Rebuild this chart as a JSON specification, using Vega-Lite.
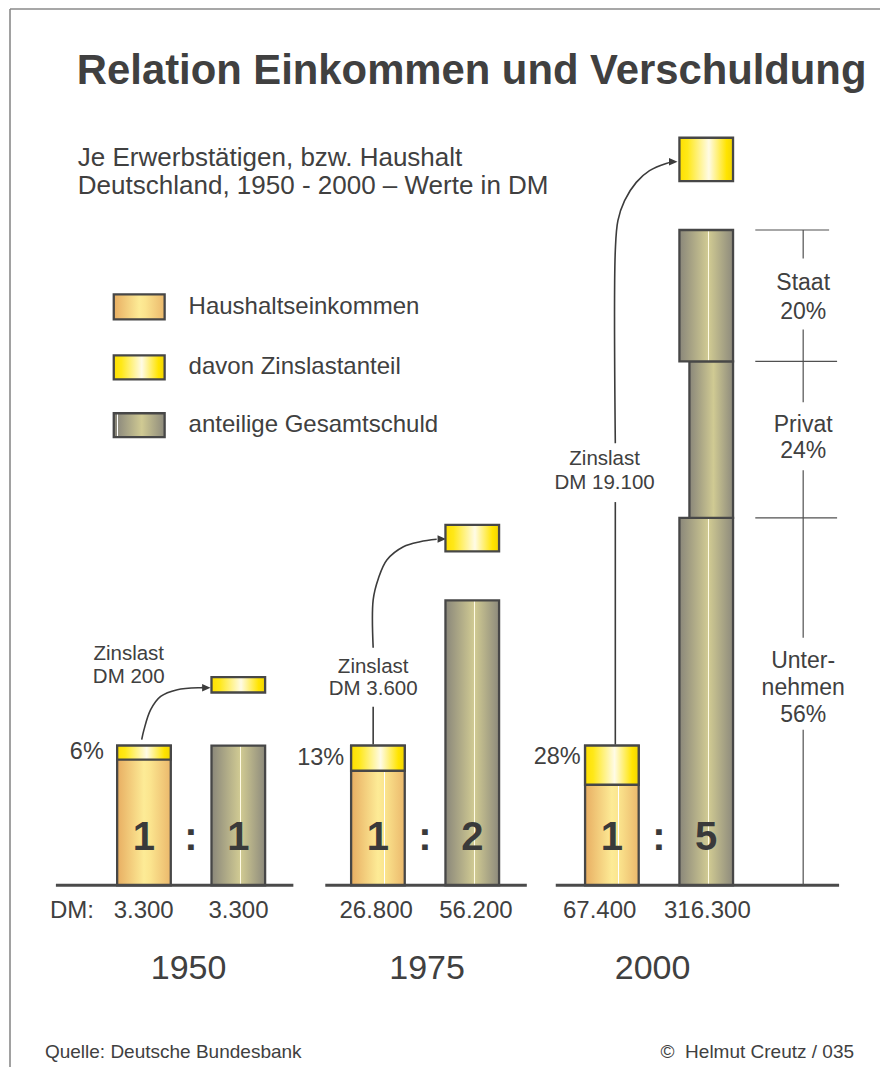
{
  "$schema": "https://vega.github.io/schema/vega-lite/v6.json",
  "width": 881,
  "height": 1068,
  "autosize": {"type": "fit", "contains": "padding"},
  "padding": {"left": 9, "top": 8, "right": 0, "bottom": 0},
  "background": "white",
  "config": {
    "view": {"stroke": null},
    "text": {"font": "Liberation Sans", "color": "#404040"}
  },
  "datasets": {
    "rahmen": [{"kante": "oben"}, {"kante": "links"}],
    "saeulen": [
      {"jahr": 1950, "reihe": "Haushaltseinkommen", "lage": "E", "von": 0, "bis": 1},
      {"jahr": 1975, "reihe": "Haushaltseinkommen", "lage": "E", "von": 0, "bis": 1},
      {"jahr": 2000, "reihe": "Haushaltseinkommen", "lage": "E", "von": 0, "bis": 1},
      {"jahr": 1950, "reihe": "Zinslastanteil", "lage": "E", "von": 0.9, "bis": 1},
      {"jahr": 1975, "reihe": "Zinslastanteil", "lage": "E", "von": 0.82, "bis": 1},
      {"jahr": 2000, "reihe": "Zinslastanteil", "lage": "E", "von": 0.72, "bis": 1},
      {"jahr": 1950, "reihe": "Gesamtschuld", "lage": "S", "von": 0, "bis": 1},
      {"jahr": 1975, "reihe": "Gesamtschuld", "lage": "S", "von": 0, "bis": 2.04},
      {"jahr": 2000, "reihe": "Unternehmen", "lage": "S", "von": 0, "bis": 2.63},
      {"jahr": 2000, "reihe": "Privat", "lage": "S", "von": 2.63, "bis": 3.75},
      {"jahr": 2000, "reihe": "Staat", "lage": "S", "von": 3.75, "bis": 4.69},
      {"jahr": 1950, "reihe": "Zinslast", "lage": "S", "von": 1.38, "bis": 1.49},
      {"jahr": 1975, "reihe": "Zinslast", "lage": "S", "von": 2.39, "bis": 2.58},
      {"jahr": 2000, "reihe": "Zinslast", "lage": "S", "von": 5.04, "bis": 5.35}
    ],
    "grundlinien": [
      {"jahr": 1950, "von": 1935.564, "bis": 1960.937},
      {"jahr": 1975, "von": 1964.349, "bis": 1985.884},
      {"jahr": 2000, "von": 1988.976, "bis": 2019.252}
    ],
    "verbindungen": [
      {"strecke": "1950", "nr": 1, "x": 1944.732, "y": 1.0429},
      {"strecke": "1950", "nr": 2, "x": 1944.977, "y": 1.1143},
      {"strecke": "1950", "nr": 3, "x": 1945.691, "y": 1.2571},
      {"strecke": "1950", "nr": 4, "x": 1946.758, "y": 1.3521},
      {"strecke": "1950", "nr": 5, "x": 1948.538, "y": 1.4},
      {"strecke": "1950", "nr": 6, "x": 1951.022, "y": 1.4143},
      {"strecke": "1950", "nr": 7, "x": 1951.449, "y": 1.4143},
      {"strecke": "1975a", "nr": 1, "x": 1969.466, "y": 1.0071},
      {"strecke": "1975a", "nr": 2, "x": 1969.466, "y": 1.2786},
      {"strecke": "1975b", "nr": 1, "x": 1969.466, "y": 1.7},
      {"strecke": "1975b", "nr": 2, "x": 1969.466, "y": 2.0429},
      {"strecke": "1975b", "nr": 3, "x": 1970.031, "y": 2.1979},
      {"strecke": "1975b", "nr": 4, "x": 1970.926, "y": 2.3286},
      {"strecke": "1975b", "nr": 5, "x": 1972.696, "y": 2.4236},
      {"strecke": "1975b", "nr": 6, "x": 1974.476, "y": 2.4593},
      {"strecke": "1975b", "nr": 7, "x": 1976.256, "y": 2.4764},
      {"strecke": "2000a", "nr": 1, "x": 1995.34, "y": 1.0071},
      {"strecke": "2000a", "nr": 2, "x": 1995.34, "y": 2.7429},
      {"strecke": "2000b", "nr": 1, "x": 1995.34, "y": 3.1643},
      {"strecke": "2000b", "nr": 2, "x": 1995.34, "y": 4.5429},
      {"strecke": "2000b", "nr": 3, "x": 1995.617, "y": 4.7571},
      {"strecke": "2000b", "nr": 4, "x": 1996.331, "y": 4.9},
      {"strecke": "2000b", "nr": 5, "x": 1997.578, "y": 5.0307},
      {"strecke": "2000b", "nr": 6, "x": 1998.995, "y": 5.1143},
      {"strecke": "2000b", "nr": 7, "x": 2000.775, "y": 5.1664},
      {"strecke": "2000b", "nr": 8, "x": 2001.447, "y": 5.1764}
    ],
    "pfeilspitzen": [
      {"jahr": 1950, "x": 1951.64, "y": 1.4143},
      {"jahr": 1975, "x": 1976.8, "y": 2.4786},
      {"jahr": 2000, "x": 2001.533, "y": 5.1786}
    ],
    "grenzen": [
      {"teil": "Staat oben", "grenze": 4.69, "von": 2010.296, "bis": 2018.185},
      {"teil": "Staat/Privat", "grenze": 3.75, "von": 2010.296, "bis": 2019.038},
      {"teil": "Privat/Unternehmen", "grenze": 2.63, "von": 2010.296, "bis": 2019.038}
    ],
    "klammer": [
      {"oben": 4.69, "unten": 4.4857},
      {"oben": 3.9786, "unten": 3.4571},
      {"oben": 2.9714, "unten": 1.7714},
      {"oben": 1.1143, "unten": 0}
    ],
    "klammertexte": [
      {"zeile": "Staat", "y": 4.2571},
      {"zeile": "20%", "y": 4.05},
      {"zeile": "Privat", "y": 3.2429},
      {"zeile": "24%", "y": 3.0571},
      {"zeile": "Unter-", "y": 1.5571},
      {"zeile": "nehmen", "y": 1.3643},
      {"zeile": "56%", "y": 1.1714}
    ],
    "legende": [
      {"eintrag": "Haushaltseinkommen", "oben": 4.2286, "unten": 4.05},
      {"eintrag": "davon Zinslastanteil", "oben": 3.7929, "unten": 3.6214},
      {"eintrag": "anteilige Gesamtschuld", "oben": 3.3786, "unten": 3.2071}
    ],
    "titel": [
      {"text": "Relation Einkommen und Verschuldung", "x": 1937.802, "y": 5.7321}
    ],
    "untertitel": [
      {"zeile": "Je Erwerbstätigen, bzw. Haushalt", "x": 1937.909, "y": 5.15},
      {"zeile": "Deutschland, 1950 - 2000 – Werte in DM", "x": 1937.909, "y": 4.95}
    ],
    "prozente": [
      {"jahr": 1950, "text": "6%", "x": 1940.681, "y": 0.9071},
      {"jahr": 1975, "text": "13%", "x": 1966.374, "y": 0.8643},
      {"jahr": 2000, "text": "28%", "x": 1991.64, "y": 0.8714}
    ],
    "zinslasttexte": [
      {"jahr": 1950, "zeile": "Zinslast", "x": 1943.346, "y": 1.6143},
      {"jahr": 1950, "zeile": "DM 200", "x": 1943.346, "y": 1.45},
      {"jahr": 1975, "zeile": "Zinslast", "x": 1969.466, "y": 1.519},
      {"jahr": 1975, "zeile": "DM 3.600", "x": 1969.466, "y": 1.3593},
      {"jahr": 2000, "zeile": "Zinslast", "x": 1994.199, "y": 3.0071},
      {"jahr": 2000, "zeile": "DM 19.100", "x": 1994.199, "y": 2.8336}
    ],
    "verhaeltnis": [
      {"jahr": 1950, "lage": "E", "zeichen": "1"},
      {"jahr": 1950, "lage": "M", "zeichen": ":"},
      {"jahr": 1950, "lage": "S", "zeichen": "1"},
      {"jahr": 1975, "lage": "E", "zeichen": "1"},
      {"jahr": 1975, "lage": "M", "zeichen": ":"},
      {"jahr": 1975, "lage": "S", "zeichen": "2"},
      {"jahr": 2000, "lage": "E", "zeichen": "1"},
      {"jahr": 2000, "lage": "M", "zeichen": ":"},
      {"jahr": 2000, "lage": "S", "zeichen": "5"}
    ],
    "betraege": [
      {"jahr": 1950, "reihe": "Haushaltseinkommen", "betrag": "3.300", "x": 1944.945},
      {"jahr": 1950, "reihe": "Gesamtschuld", "betrag": "3.300", "x": 1955.073},
      {"jahr": 1975, "reihe": "Haushaltseinkommen", "betrag": "26.800", "x": 1969.785},
      {"jahr": 1975, "reihe": "Gesamtschuld", "betrag": "56.200", "x": 1980.446},
      {"jahr": 2000, "reihe": "Haushaltseinkommen", "betrag": "67.400", "x": 1993.666},
      {"jahr": 2000, "reihe": "Gesamtschuld", "betrag": "316.300", "x": 2005.18}
    ],
    "einheit": [
      {"text": "DM:", "x": 1934.924}
    ],
    "jahre": [
      {"jahr": "1950", "x": 1949.743},
      {"jahr": "1975", "x": 1975.222},
      {"jahr": "2000", "x": 1999.317}
    ],
    "fusszeile": [
      {"text": "Quelle: Deutsche Bundesbank", "seite": "links", "x": 1934.391},
      {"text": "©\u00a0 Helmut Creutz / 035", "seite": "rechts", "x": 2020.852}
    ]
  },
  "layer": [
    {
      "data": {"name": "rahmen"},
      "transform": [{"filter": "datum.kante == 'oben'"}],
      "mark": {"type": "rule", "stroke": "#8a8a8a", "strokeWidth": 1.6},
      "encoding": {
        "x": {"datum": 1930.6595, "type": "quantitative", "scale": {"domain": [1930.6595, 2023.6232], "nice": false, "zero": false}, "axis": null},
        "x2": {"datum": 2023.6232},
        "y": {"datum": 6.2714, "type": "quantitative", "scale": {"domain": [-1.3, 6.2714], "nice": false, "zero": false}, "axis": null}
      }
    },
    {
      "data": {"name": "rahmen"},
      "transform": [{"filter": "datum.kante == 'links'"}],
      "mark": {"type": "rule", "stroke": "#8a8a8a", "strokeWidth": 1.6},
      "encoding": {
        "x": {"datum": 1930.6595, "type": "quantitative", "scale": {"domain": [1930.6595, 2023.6232], "nice": false, "zero": false}, "axis": null},
        "y": {"datum": -1.3, "type": "quantitative", "scale": {"domain": [-1.3, 6.2714], "nice": false, "zero": false}, "axis": null},
        "y2": {"datum": 6.2714}
      }
    },
    {
      "data": {"name": "verbindungen"},
      "mark": {"type": "line", "interpolate": "catmull-rom", "stroke": "#3c3c3c", "strokeWidth": 1.6},
      "encoding": {
        "x": {"field": "x", "type": "quantitative", "scale": {"domain": [1930.6595, 2023.6232], "nice": false, "zero": false}, "axis": null},
        "y": {"field": "y", "type": "quantitative", "scale": {"domain": [-1.3, 6.2714], "nice": false, "zero": false}, "axis": null},
        "detail": {"field": "strecke", "type": "nominal"},
        "order": {"field": "nr", "type": "quantitative"}
      }
    },
    {
      "data": {"name": "pfeilspitzen"},
      "mark": {"type": "point", "shape": "M-1,-0.9L1,0L-1,0.9Z", "size": 72, "filled": true, "fill": "#3c3c3c", "stroke": null, "opacity": 1},
      "encoding": {
        "x": {"field": "x", "type": "quantitative", "scale": {"domain": [1930.6595, 2023.6232], "nice": false, "zero": false}, "axis": null},
        "y": {"field": "y", "type": "quantitative", "scale": {"domain": [-1.3, 6.2714], "nice": false, "zero": false}, "axis": null}
      }
    },
    {
      "data": {"name": "saeulen"},
      "transform": [
        {"filter": "datum.reihe == 'Haushaltseinkommen' && datum.jahr == 1950"},
        {"calculate": "datum.jahr + (datum.lage == 'E' ? -7.89 : 2.19)", "as": "links"},
        {"calculate": "datum.links + 5.73", "as": "rechts"}
      ],
      "mark": {"type": "rect", "stroke": "#474747", "strokeWidth": 2.3,
        "fill": {"gradient": "linear", "x1": 0, "y1": 0, "x2": 1, "y2": 0, "stops": [
          {"offset": 0, "color": "#e8ae62"}, {"offset": 0.5, "color": "#fdeb96"}, {"offset": 0.62, "color": "#fbe48e"}, {"offset": 1, "color": "#ebb86c"}]}},
      "encoding": {
        "x": {"field": "links", "type": "quantitative", "scale": {"domain": [1930.6595, 2023.6232], "nice": false, "zero": false}, "axis": null},
        "x2": {"field": "rechts"},
        "y": {"field": "von", "type": "quantitative", "scale": {"domain": [-1.3, 6.2714], "nice": false, "zero": false}, "axis": null},
        "y2": {"field": "bis"}
      }
    },
    {
      "data": {"name": "saeulen"},
      "transform": [
        {"filter": "datum.reihe == 'Haushaltseinkommen' && datum.jahr != 1950"},
        {"calculate": "datum.jahr + (datum.lage == 'E' ? -7.89 : 2.19)", "as": "links"},
        {"calculate": "datum.links + 5.73", "as": "rechts"}
      ],
      "mark": {"type": "rect", "stroke": "#474747", "strokeWidth": 2.3,
        "fill": {"gradient": "linear", "x1": 0, "y1": 0, "x2": 1, "y2": 0, "stops": [
          {"offset": 0, "color": "#e8ae62"}, {"offset": 0.5, "color": "#fdeb96"}, {"offset": 0.605, "color": "#fbe690"},
          {"offset": 0.605, "color": "#ffffff"}, {"offset": 0.63, "color": "#ffffff"}, {"offset": 0.63, "color": "#fbe48d"},
          {"offset": 1, "color": "#ebb86c"}]}},
      "encoding": {
        "x": {"field": "links", "type": "quantitative", "scale": {"domain": [1930.6595, 2023.6232], "nice": false, "zero": false}, "axis": null},
        "x2": {"field": "rechts"},
        "y": {"field": "von", "type": "quantitative", "scale": {"domain": [-1.3, 6.2714], "nice": false, "zero": false}, "axis": null},
        "y2": {"field": "bis"}
      }
    },
    {
      "data": {"name": "saeulen"},
      "transform": [
        {"filter": "datum.reihe == 'Zinslastanteil' || datum.reihe == 'Zinslast'"},
        {"calculate": "datum.jahr + (datum.lage == 'E' ? -7.89 : 2.19)", "as": "links"},
        {"calculate": "datum.links + 5.73", "as": "rechts"}
      ],
      "mark": {"type": "rect", "stroke": "#474747", "strokeWidth": 2.3,
        "fill": {"gradient": "linear", "x1": 0, "y1": 0, "x2": 1, "y2": 0, "stops": [
          {"offset": 0, "color": "#ffdf00"}, {"offset": 0.15, "color": "#ffe818"}, {"offset": 0.55, "color": "#fffbe6"},
          {"offset": 0.88, "color": "#ffe400"}, {"offset": 1, "color": "#f2d400"}]}},
      "encoding": {
        "x": {"field": "links", "type": "quantitative", "scale": {"domain": [1930.6595, 2023.6232], "nice": false, "zero": false}, "axis": null},
        "x2": {"field": "rechts"},
        "y": {"field": "von", "type": "quantitative", "scale": {"domain": [-1.3, 6.2714], "nice": false, "zero": false}, "axis": null},
        "y2": {"field": "bis"}
      }
    },
    {
      "data": {"name": "saeulen"},
      "transform": [
        {"filter": "datum.reihe == 'Gesamtschuld' || datum.reihe == 'Unternehmen'"},
        {"calculate": "datum.jahr + (datum.lage == 'E' ? -7.89 : 2.19)", "as": "links"},
        {"calculate": "datum.links + 5.73", "as": "rechts"}
      ],
      "mark": {"type": "rect", "stroke": "#474747", "strokeWidth": 2.3,
        "fill": {"gradient": "linear", "x1": 0, "y1": 0, "x2": 1, "y2": 0, "stops": [
          {"offset": 0, "color": "#8a877a"}, {"offset": 0.53, "color": "#d0ca93"},
          {"offset": 0.53, "color": "#fffbe6"}, {"offset": 0.555, "color": "#fffbe6"}, {"offset": 0.555, "color": "#cfc992"},
          {"offset": 1, "color": "#8d8a7c"}]}},
      "encoding": {
        "x": {"field": "links", "type": "quantitative", "scale": {"domain": [1930.6595, 2023.6232], "nice": false, "zero": false}, "axis": null},
        "x2": {"field": "rechts"},
        "y": {"field": "von", "type": "quantitative", "scale": {"domain": [-1.3, 6.2714], "nice": false, "zero": false}, "axis": null},
        "y2": {"field": "bis"}
      }
    },
    {
      "data": {"name": "saeulen"},
      "transform": [
        {"filter": "datum.reihe == 'Privat'"},
        {"calculate": "datum.jahr + (datum.lage == 'E' ? -7.89 : 2.19)", "as": "links"},
        {"calculate": "datum.links + 5.73", "as": "rechts"}
      ],
      "mark": {"type": "rect", "stroke": "#474747", "strokeWidth": 2.3, "xOffset": 10,
        "fill": {"gradient": "linear", "x1": 0, "y1": 0, "x2": 1, "y2": 0, "stops": [
          {"offset": 0, "color": "#8a877a"}, {"offset": 0.55, "color": "#d0ca93"}, {"offset": 1, "color": "#8d8a7c"}]}},
      "encoding": {
        "x": {"field": "links", "type": "quantitative", "scale": {"domain": [1930.6595, 2023.6232], "nice": false, "zero": false}, "axis": null},
        "x2": {"field": "rechts"},
        "y": {"field": "von", "type": "quantitative", "scale": {"domain": [-1.3, 6.2714], "nice": false, "zero": false}, "axis": null},
        "y2": {"field": "bis"}
      }
    },
    {
      "data": {"name": "saeulen"},
      "transform": [
        {"filter": "datum.reihe == 'Staat'"},
        {"calculate": "datum.jahr + (datum.lage == 'E' ? -7.89 : 2.19)", "as": "links"},
        {"calculate": "datum.links + 5.73", "as": "rechts"}
      ],
      "mark": {"type": "rect", "stroke": "#474747", "strokeWidth": 2.3,
        "fill": {"gradient": "linear", "x1": 0, "y1": 0, "x2": 1, "y2": 0, "stops": [
          {"offset": 0, "color": "#8a877a"}, {"offset": 0.53, "color": "#d0ca93"},
          {"offset": 0.53, "color": "#fffbe6"}, {"offset": 0.555, "color": "#fffbe6"}, {"offset": 0.555, "color": "#cfc992"},
          {"offset": 1, "color": "#8d8a7c"}]}},
      "encoding": {
        "x": {"field": "links", "type": "quantitative", "scale": {"domain": [1930.6595, 2023.6232], "nice": false, "zero": false}, "axis": null},
        "x2": {"field": "rechts"},
        "y": {"field": "von", "type": "quantitative", "scale": {"domain": [-1.3, 6.2714], "nice": false, "zero": false}, "axis": null},
        "y2": {"field": "bis"}
      }
    },
    {
      "data": {"name": "grundlinien"},
      "mark": {"type": "rule", "stroke": "#4a4a4a", "strokeWidth": 3},
      "encoding": {
        "x": {"field": "von", "type": "quantitative", "scale": {"domain": [1930.6595, 2023.6232], "nice": false, "zero": false}, "axis": null},
        "x2": {"field": "bis"},
        "y": {"datum": 0, "type": "quantitative", "scale": {"domain": [-1.3, 6.2714], "nice": false, "zero": false}, "axis": null}
      }
    },
    {
      "data": {"name": "grenzen"},
      "mark": {"type": "rule", "stroke": "#505050", "strokeWidth": 1.2},
      "encoding": {
        "x": {"field": "von", "type": "quantitative", "scale": {"domain": [1930.6595, 2023.6232], "nice": false, "zero": false}, "axis": null},
        "x2": {"field": "bis"},
        "y": {"field": "grenze", "type": "quantitative", "scale": {"domain": [-1.3, 6.2714], "nice": false, "zero": false}, "axis": null}
      }
    },
    {
      "data": {"name": "klammer"},
      "mark": {"type": "rule", "stroke": "#505050", "strokeWidth": 1.2},
      "encoding": {
        "x": {"datum": 2015.414, "type": "quantitative", "scale": {"domain": [1930.6595, 2023.6232], "nice": false, "zero": false}, "axis": null},
        "y": {"field": "oben", "type": "quantitative", "scale": {"domain": [-1.3, 6.2714], "nice": false, "zero": false}, "axis": null},
        "y2": {"field": "unten"}
      }
    },
    {
      "data": {"name": "klammertexte"},
      "mark": {"type": "text", "fontSize": 23, "align": "center", "baseline": "alphabetic"},
      "encoding": {
        "x": {"datum": 2015.414, "type": "quantitative", "scale": {"domain": [1930.6595, 2023.6232], "nice": false, "zero": false}, "axis": null},
        "y": {"field": "y", "type": "quantitative", "scale": {"domain": [-1.3, 6.2714], "nice": false, "zero": false}, "axis": null},
        "text": {"field": "zeile"}
      }
    },
    {
      "data": {"name": "legende"},
      "transform": [{"filter": "datum.eintrag == 'Haushaltseinkommen'"}],
      "mark": {"type": "rect", "stroke": "#474747", "strokeWidth": 2.3,
        "fill": {"gradient": "linear", "x1": 0, "y1": 0, "x2": 1, "y2": 0, "stops": [
          {"offset": 0, "color": "#e8ae62"}, {"offset": 0.5, "color": "#fdeb96"}, {"offset": 0.62, "color": "#fbe48e"}, {"offset": 1, "color": "#ebb86c"}]}},
      "encoding": {
        "x": {"datum": 1941.747, "type": "quantitative", "scale": {"domain": [1930.6595, 2023.6232], "nice": false, "zero": false}, "axis": null},
        "x2": {"datum": 1947.184},
        "y": {"field": "oben", "type": "quantitative", "scale": {"domain": [-1.3, 6.2714], "nice": false, "zero": false}, "axis": null},
        "y2": {"field": "unten"}
      }
    },
    {
      "data": {"name": "legende"},
      "transform": [{"filter": "datum.eintrag == 'davon Zinslastanteil'"}],
      "mark": {"type": "rect", "stroke": "#474747", "strokeWidth": 2.3,
        "fill": {"gradient": "linear", "x1": 0, "y1": 0, "x2": 1, "y2": 0, "stops": [
          {"offset": 0, "color": "#ffdf00"}, {"offset": 0.15, "color": "#ffe818"}, {"offset": 0.55, "color": "#fffbe6"},
          {"offset": 0.88, "color": "#ffe400"}, {"offset": 1, "color": "#f2d400"}]}},
      "encoding": {
        "x": {"datum": 1941.747, "type": "quantitative", "scale": {"domain": [1930.6595, 2023.6232], "nice": false, "zero": false}, "axis": null},
        "x2": {"datum": 1947.184},
        "y": {"field": "oben", "type": "quantitative", "scale": {"domain": [-1.3, 6.2714], "nice": false, "zero": false}, "axis": null},
        "y2": {"field": "unten"}
      }
    },
    {
      "data": {"name": "legende"},
      "transform": [{"filter": "datum.eintrag == 'anteilige Gesamtschuld'"}],
      "mark": {"type": "rect", "stroke": "#474747", "strokeWidth": 2.3,
        "fill": {"gradient": "linear", "x1": 0, "y1": 0, "x2": 1, "y2": 0, "stops": [
          {"offset": 0, "color": "#8a877a"}, {"offset": 0.06, "color": "#8c897b"},
          {"offset": 0.06, "color": "#ffffff"}, {"offset": 0.09, "color": "#ffffff"}, {"offset": 0.09, "color": "#908d7e"},
          {"offset": 0.55, "color": "#d0ca93"}, {"offset": 1, "color": "#8d8a7c"}]}},
      "encoding": {
        "x": {"datum": 1941.747, "type": "quantitative", "scale": {"domain": [1930.6595, 2023.6232], "nice": false, "zero": false}, "axis": null},
        "x2": {"datum": 1947.184},
        "y": {"field": "oben", "type": "quantitative", "scale": {"domain": [-1.3, 6.2714], "nice": false, "zero": false}, "axis": null},
        "y2": {"field": "unten"}
      }
    },
    {
      "data": {"name": "legende"},
      "transform": [{"calculate": "(datum.oben + datum.unten) / 2", "as": "mitte"}],
      "mark": {"type": "text", "fontSize": 24, "align": "left", "baseline": "middle"},
      "encoding": {
        "x": {"datum": 1949.743, "type": "quantitative", "scale": {"domain": [1930.6595, 2023.6232], "nice": false, "zero": false}, "axis": null},
        "y": {"field": "mitte", "type": "quantitative", "scale": {"domain": [-1.3, 6.2714], "nice": false, "zero": false}, "axis": null},
        "text": {"field": "eintrag"}
      }
    },
    {
      "data": {"name": "titel"},
      "mark": {"type": "text", "fontSize": 41.8, "fontWeight": "bold", "align": "left", "baseline": "alphabetic", "color": "#404040"},
      "encoding": {
        "x": {"field": "x", "type": "quantitative", "scale": {"domain": [1930.6595, 2023.6232], "nice": false, "zero": false}, "axis": null},
        "y": {"field": "y", "type": "quantitative", "scale": {"domain": [-1.3, 6.2714], "nice": false, "zero": false}, "axis": null},
        "text": {"field": "text"}
      }
    },
    {
      "data": {"name": "untertitel"},
      "mark": {"type": "text", "fontSize": 26, "align": "left", "baseline": "alphabetic"},
      "encoding": {
        "x": {"field": "x", "type": "quantitative", "scale": {"domain": [1930.6595, 2023.6232], "nice": false, "zero": false}, "axis": null},
        "y": {"field": "y", "type": "quantitative", "scale": {"domain": [-1.3, 6.2714], "nice": false, "zero": false}, "axis": null},
        "text": {"field": "zeile"}
      }
    },
    {
      "data": {"name": "prozente"},
      "mark": {"type": "text", "fontSize": 23.5, "align": "right", "baseline": "alphabetic"},
      "encoding": {
        "x": {"field": "x", "type": "quantitative", "scale": {"domain": [1930.6595, 2023.6232], "nice": false, "zero": false}, "axis": null},
        "y": {"field": "y", "type": "quantitative", "scale": {"domain": [-1.3, 6.2714], "nice": false, "zero": false}, "axis": null},
        "text": {"field": "text"}
      }
    },
    {
      "data": {"name": "zinslasttexte"},
      "mark": {"type": "text", "fontSize": 20.5, "align": "center", "baseline": "alphabetic"},
      "encoding": {
        "x": {"field": "x", "type": "quantitative", "scale": {"domain": [1930.6595, 2023.6232], "nice": false, "zero": false}, "axis": null},
        "y": {"field": "y", "type": "quantitative", "scale": {"domain": [-1.3, 6.2714], "nice": false, "zero": false}, "axis": null},
        "text": {"field": "zeile"}
      }
    },
    {
      "data": {"name": "verhaeltnis"},
      "transform": [
        {"calculate": "datum.jahr + (datum.lage == 'E' ? -5.025 : datum.lage == 'S' ? 5.055 : 0)", "as": "mitte"}
      ],
      "mark": {"type": "text", "fontSize": 40, "fontWeight": "bold", "align": "center", "baseline": "alphabetic", "color": "#3a3a3a"},
      "encoding": {
        "x": {"field": "mitte", "type": "quantitative", "scale": {"domain": [1930.6595, 2023.6232], "nice": false, "zero": false}, "axis": null},
        "y": {"datum": 0.25, "type": "quantitative", "scale": {"domain": [-1.3, 6.2714], "nice": false, "zero": false}, "axis": null},
        "text": {"field": "zeichen"}
      }
    },
    {
      "data": {"name": "betraege"},
      "mark": {"type": "text", "fontSize": 24, "align": "center", "baseline": "alphabetic"},
      "encoding": {
        "x": {"field": "x", "type": "quantitative", "scale": {"domain": [1930.6595, 2023.6232], "nice": false, "zero": false}, "axis": null},
        "y": {"datum": -0.2357, "type": "quantitative", "scale": {"domain": [-1.3, 6.2714], "nice": false, "zero": false}, "axis": null},
        "text": {"field": "betrag"}
      }
    },
    {
      "data": {"name": "einheit"},
      "mark": {"type": "text", "fontSize": 24, "align": "left", "baseline": "alphabetic"},
      "encoding": {
        "x": {"field": "x", "type": "quantitative", "scale": {"domain": [1930.6595, 2023.6232], "nice": false, "zero": false}, "axis": null},
        "y": {"datum": -0.2357, "type": "quantitative", "scale": {"domain": [-1.3, 6.2714], "nice": false, "zero": false}, "axis": null},
        "text": {"field": "text"}
      }
    },
    {
      "data": {"name": "jahre"},
      "mark": {"type": "text", "fontSize": 34, "align": "center", "baseline": "alphabetic"},
      "encoding": {
        "x": {"field": "x", "type": "quantitative", "scale": {"domain": [1930.6595, 2023.6232], "nice": false, "zero": false}, "axis": null},
        "y": {"datum": -0.6714, "type": "quantitative", "scale": {"domain": [-1.3, 6.2714], "nice": false, "zero": false}, "axis": null},
        "text": {"field": "jahr"}
      }
    },
    {
      "data": {"name": "fusszeile"},
      "transform": [{"filter": "datum.seite == 'links'"}],
      "mark": {"type": "text", "fontSize": 19, "align": "left", "baseline": "alphabetic"},
      "encoding": {
        "x": {"field": "x", "type": "quantitative", "scale": {"domain": [1930.6595, 2023.6232], "nice": false, "zero": false}, "axis": null},
        "y": {"datum": -1.2357, "type": "quantitative", "scale": {"domain": [-1.3, 6.2714], "nice": false, "zero": false}, "axis": null},
        "text": {"field": "text"}
      }
    },
    {
      "data": {"name": "fusszeile"},
      "transform": [{"filter": "datum.seite == 'rechts'"}],
      "mark": {"type": "text", "fontSize": 19, "align": "right", "baseline": "alphabetic"},
      "encoding": {
        "x": {"field": "x", "type": "quantitative", "scale": {"domain": [1930.6595, 2023.6232], "nice": false, "zero": false}, "axis": null},
        "y": {"datum": -1.2357, "type": "quantitative", "scale": {"domain": [-1.3, 6.2714], "nice": false, "zero": false}, "axis": null},
        "text": {"field": "text"}
      }
    }
  ]
}
